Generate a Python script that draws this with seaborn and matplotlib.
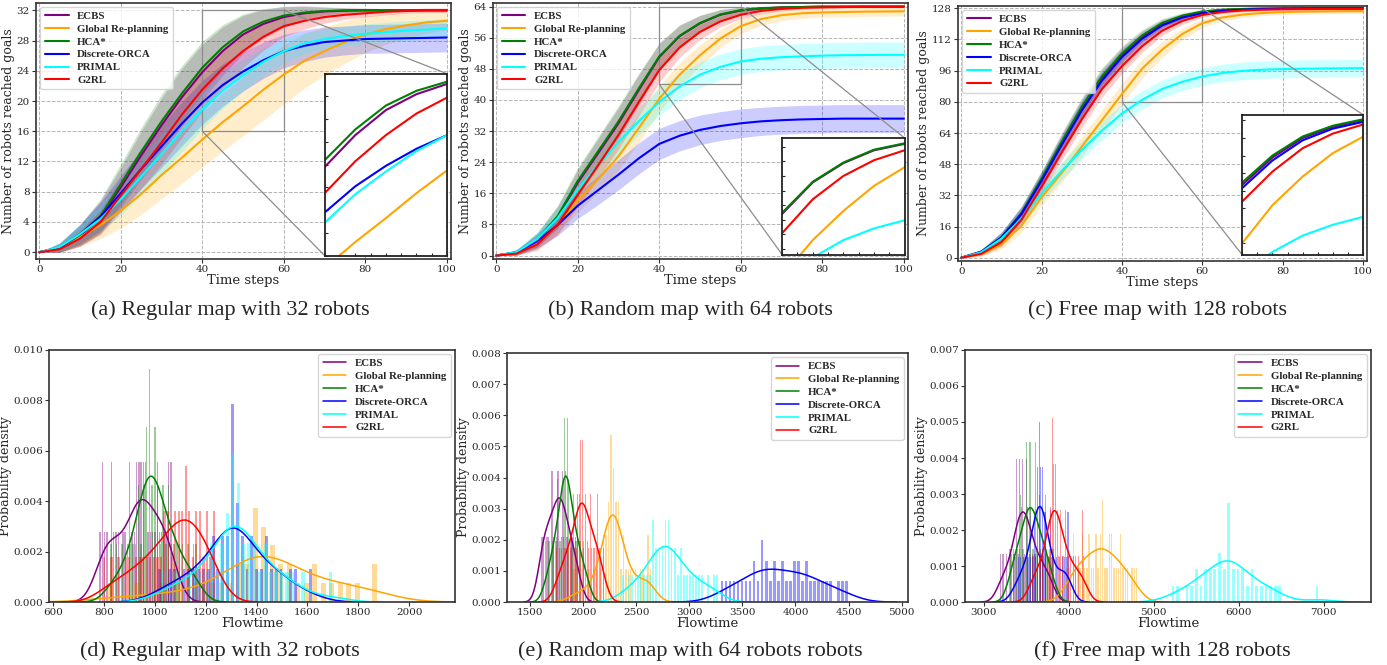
import matplotlib
matplotlib.use("Agg")
import seaborn as sns
from matplotlib import pyplot as plt
from matplotlib.ticker import FormatStrFormatter, MultipleLocator
from mpl_toolkits.axes_grid1.inset_locator import mark_inset

methods = ["ECBS", "Global Re-planning", "HCA*", "Discrete-ORCA", "PRIMAL", "G2RL"]
colors = ["purple", "orange", "green", "blue", "cyan", "red"]

steps = [0, 5, 10, 15, 20, 25, 30, 35, 40, 45, 50, 55, 60, 65, 70, 75, 80, 85, 90, 95, 100]

# (a) regular map, 32 robots: mean and std of robots at goal
a_ecbs = [0, 0.6, 2.2, 4.6, 8.6, 12.8, 16.8, 20.5, 23.8, 26.6, 28.8, 30.2, 31.1, 31.6, 31.85, 31.95, 32, 32, 32, 32, 32]
a_global = [0, 0.5, 2.0, 3.6, 5.5, 7.7, 10.2, 12.5, 14.9, 17.2, 19.3, 21.5, 23.5, 25.3, 26.6, 27.8, 28.8, 29.5, 30.0, 30.4, 30.6]
a_hca = [0, 0.6, 2.3, 4.8, 9.0, 13.3, 17.3, 21.0, 24.4, 27.1, 29.2, 30.5, 31.3, 31.7, 31.9, 32, 32, 32, 32, 32, 32]
a_orca = [0, 0.6, 2.4, 4.7, 7.8, 11.0, 14.0, 17.0, 19.8, 22.1, 23.9, 25.4, 26.6, 27.3, 27.8, 28.0, 28.2, 28.25, 28.3, 28.35, 28.4]
a_primal = [0, 0.7, 2.4, 4.4, 7.0, 10.0, 13.0, 16.0, 18.9, 21.4, 23.4, 25.2, 26.6, 27.6, 28.2, 28.6, 28.9, 29.1, 29.3, 29.45, 29.6]
a_g2rl = [0, 0.4, 1.8, 4.0, 7.5, 11.0, 14.5, 18.2, 21.5, 24.3, 26.6, 28.5, 29.9, 30.6, 31.1, 31.4, 31.6, 31.8, 31.9, 32, 32]
a_ecbs_sd = [0, 0.6, 1.4, 2.2, 2.6, 3.2, 3.6, 3.8, 3.7, 3.2, 2.5, 1.9, 1.4, 1.0, 0.6, 0.4, 0.3, 0.2, 0.1, 0.1, 0.1]
a_global_sd = [0, 0.5, 1.2, 1.8, 2.3, 2.7, 3.1, 3.4, 3.6, 3.8, 3.9, 4.0, 3.9, 3.6, 3.2, 2.8, 2.4, 2.0, 1.7, 1.4, 1.2]
a_hca_sd = [0, 0.6, 1.4, 2.2, 2.7, 3.2, 3.6, 3.7, 3.5, 3.0, 2.3, 1.7, 1.2, 0.8, 0.5, 0.3, 0.2, 0.1, 0.1, 0.1, 0.1]
a_orca_sd = [0, 0.6, 1.3, 1.9, 2.3, 2.6, 2.8, 2.9, 2.9, 2.8, 2.6, 2.4, 2.2, 2.1, 2.0, 1.9, 1.9, 1.9, 1.9, 1.9, 1.9]
a_primal_sd = [0, 0.6, 1.2, 1.7, 2.1, 2.4, 2.6, 2.7, 2.6, 2.4, 2.1, 1.8, 1.6, 1.4, 1.3, 1.3, 1.3, 1.3, 1.3, 1.3, 1.3]
a_g2rl_sd = [0, 0.4, 1.0, 1.6, 2.2, 2.6, 2.9, 3.0, 2.9, 2.6, 2.2, 1.8, 1.4, 1.1, 0.8, 0.6, 0.5, 0.4, 0.3, 0.3, 0.3]

# (b) random map, 64 robots
b_ecbs = [0, 0.8, 3.9, 9.7, 18.7, 26.3, 34.0, 42.6, 51.0, 56.4, 59.7, 61.9, 63.0, 63.5, 63.8, 63.9, 64, 64, 64, 64, 64]
b_global = [0, 0.6, 3.2, 7.8, 14.2, 19.6, 25.5, 32.8, 40.3, 46.5, 51.5, 55.8, 59.0, 60.8, 61.8, 62.3, 62.5, 62.6, 62.7, 62.75, 62.8]
b_hca = [0, 0.8, 4.0, 10.0, 19.2, 26.8, 34.5, 43.0, 51.2, 56.5, 59.8, 62.0, 63.1, 63.6, 63.8, 63.9, 64, 64, 64, 64, 64]
b_orca = [0, 0.8, 3.6, 7.8, 12.8, 16.8, 20.8, 25.0, 28.7, 30.8, 32.3, 33.3, 34.0, 34.5, 34.8, 35.0, 35.1, 35.2, 35.2, 35.2, 35.2]
b_primal = [0, 0.9, 4.2, 9.5, 17.0, 23.2, 29.2, 34.6, 39.5, 43.5, 46.5, 48.5, 49.9, 50.6, 51.0, 51.2, 51.4, 51.5, 51.55, 51.6, 51.6]
b_g2rl = [0, 0.5, 2.8, 7.8, 15.6, 23.2, 31.0, 39.5, 47.7, 53.5, 57.5, 60.2, 61.9, 62.9, 63.4, 63.7, 63.8, 63.9, 64, 64, 64]
b_ecbs_sd = [0, 0.6, 1.8, 2.8, 3.4, 3.8, 4.0, 3.9, 3.5, 2.8, 2.0, 1.3, 0.8, 0.5, 0.3, 0.2, 0.1, 0.1, 0.1, 0.1, 0.1]
b_global_sd = [0, 0.5, 1.5, 2.4, 3.0, 3.4, 3.6, 3.6, 3.4, 3.1, 2.7, 2.3, 1.9, 1.6, 1.4, 1.3, 1.2, 1.2, 1.2, 1.2, 1.2]
b_hca_sd = [0, 0.6, 1.8, 2.8, 3.4, 3.8, 4.0, 3.9, 3.5, 2.8, 2.0, 1.3, 0.8, 0.5, 0.3, 0.2, 0.1, 0.1, 0.1, 0.1, 0.1]
b_orca_sd = [0, 0.8, 1.8, 2.7, 3.3, 3.7, 3.9, 4.0, 4.0, 3.9, 3.8, 3.7, 3.7, 3.6, 3.6, 3.6, 3.6, 3.6, 3.6, 3.6, 3.6]
b_primal_sd = [0, 0.8, 1.8, 2.6, 3.1, 3.4, 3.5, 3.5, 3.5, 3.4, 3.3, 3.3, 3.3, 3.3, 3.3, 3.3, 3.3, 3.3, 3.3, 3.3, 3.3]
b_g2rl_sd = [0, 0.5, 1.5, 2.4, 3.0, 3.4, 3.6, 3.5, 3.1, 2.5, 1.9, 1.4, 1.0, 0.7, 0.5, 0.4, 0.3, 0.3, 0.3, 0.3, 0.3]

# (c) free map, 128 robots
c_ecbs = [0, 2.9, 10.2, 22.5, 40.0, 58.8, 76.8, 92.2, 104.0, 113.3, 120.0, 123.8, 126.1, 127.1, 127.6, 127.8, 127.9, 128, 128, 128, 128]
c_global = [0, 1.8, 6.8, 16.5, 31.0, 43.5, 57.0, 70.5, 84.0, 97.0, 106.8, 114.8, 120.4, 123.3, 124.8, 125.6, 126.1, 126.3, 126.4, 126.5, 126.5]
c_hca = [0, 3.0, 10.5, 23.0, 40.7, 59.5, 77.5, 93.0, 104.8, 114.0, 120.5, 124.2, 126.4, 127.3, 127.7, 127.9, 128, 128, 128, 128, 128]
c_orca = [0, 3.1, 10.4, 22.4, 39.5, 57.8, 75.5, 90.8, 102.9, 112.3, 119.2, 123.2, 125.5, 126.7, 127.3, 127.6, 127.8, 127.9, 128, 128, 128]
c_primal = [0, 2.8, 9.8, 20.0, 33.0, 44.5, 55.3, 65.2, 74.0, 81.0, 86.6, 90.3, 93.0, 94.8, 95.9, 96.5, 96.8, 97.0, 97.1, 97.2, 97.3]
c_g2rl = [0, 2.0, 8.0, 19.5, 36.5, 54.0, 71.0, 86.5, 98.3, 108.5, 116.5, 121.5, 124.6, 126.1, 126.9, 127.3, 127.5, 127.6, 127.7, 127.7, 127.7]
c_ecbs_sd = [0, 1.2, 2.6, 3.6, 4.2, 4.5, 4.6, 4.4, 3.8, 3.0, 2.2, 1.5, 1.0, 0.7, 0.5, 0.3, 0.2, 0.2, 0.2, 0.2, 0.2]
c_global_sd = [0, 1.0, 2.4, 3.4, 4.2, 4.8, 5.2, 5.4, 5.3, 4.8, 4.0, 3.0, 2.2, 1.7, 1.4, 1.3, 1.2, 1.2, 1.2, 1.2, 1.2]
c_hca_sd = [0, 1.2, 2.6, 3.6, 4.2, 4.5, 4.6, 4.4, 3.8, 3.0, 2.2, 1.5, 1.0, 0.7, 0.5, 0.3, 0.2, 0.2, 0.2, 0.2, 0.2]
c_orca_sd = [0, 1.3, 2.8, 3.8, 4.4, 4.7, 4.8, 4.5, 3.9, 3.0, 2.2, 1.5, 1.0, 0.7, 0.5, 0.4, 0.3, 0.3, 0.3, 0.3, 0.3]
c_primal_sd = [0, 1.2, 2.5, 3.4, 4.0, 4.4, 4.6, 4.7, 4.7, 4.6, 4.6, 4.5, 4.5, 4.5, 4.5, 4.5, 4.5, 4.5, 4.5, 4.5, 4.5]
c_g2rl_sd = [0, 1.0, 2.2, 3.0, 3.6, 4.0, 4.2, 4.1, 3.7, 3.1, 2.4, 1.7, 1.2, 0.9, 0.7, 0.6, 0.5, 0.5, 0.5, 0.5, 0.5]

# flowtime samples per method (d) regular, (e) random, (f) free
d_ecbs = [780, 790, 805, 815, 825, 832, 840, 848, 860, 872, 885, 898, 905, 912, 920, 926, 930, 934, 938, 942,
          946, 952, 958, 963, 968, 975, 982, 990, 998, 1005, 1012, 1020, 1028, 1035, 1042, 1050, 1058, 1064, 795, 1068]
d_global = [810, 930, 1020, 1090, 1150, 1200, 1240, 1272, 1300, 1322, 1342, 1360, 1376, 1390, 1402, 1414, 1426, 1438, 1450, 1463,
            1477, 1492, 1508, 1525, 1544, 1565, 1588, 1614, 1642, 1672, 1705, 1740, 1775, 1810, 1850, 1880, 1395, 1408, 1380, 1420]
d_hca = [822, 850, 872, 890, 905, 915, 925, 932, 940, 946, 952, 958, 963, 968, 972, 976, 980, 984, 988, 992,
         996, 1000, 1005, 1010, 1016, 1022, 1028, 1035, 1042, 1050, 1058, 1066, 1075, 1085, 1098, 1112, 1130, 1150, 1168, 978]
d_orca = [1296, 1310, 1010, 1050, 1085, 1110, 1135, 1155, 1175, 1192, 1208, 1222, 1235, 1248, 1260, 1270, 1280, 1290, 1298, 1306,
          1314, 1322, 1330, 1340, 1350, 1362, 1375, 1388, 1400, 1415, 1430, 1445, 1462, 1480, 1500, 1525, 1555, 1318, 1620, 1302]
d_primal = [1305, 1312, 1020, 1065, 1100, 1130, 1155, 1178, 1198, 1215, 1230, 1244, 1256, 1268, 1280, 1290, 1300, 1308, 1316, 1324,
            1332, 1340, 1350, 1360, 1372, 1385, 1398, 1412, 1426, 1440, 1456, 1474, 1495, 1520, 1550, 1590, 1326, 1700, 1290, 1320]
d_g2rl = [795, 830, 860, 885, 905, 925, 942, 958, 972, 985, 998, 1010, 1022, 1033, 1044, 1055, 1065, 1074, 1083, 1092,
          1100, 1107, 1114, 1120, 1127, 1134, 1141, 1149, 1157, 1165, 1173, 1181, 1190, 1200, 1210, 1220, 1232, 1240, 1050, 1118]

e_ecbs = [1585, 1598, 1610, 1622, 1635, 1648, 1660, 1672, 1684, 1695, 1705, 1715, 1725, 1735, 1744, 1752, 1760, 1768, 1776, 1784,
          1792, 1800, 1808, 1816, 1825, 1834, 1843, 1852, 1862, 1872, 1884, 1896, 1910, 1926, 1945, 1965, 1770, 1780, 1640, 1700]
e_global = [1900, 1990, 2050, 2095, 2130, 2158, 2180, 2198, 2214, 2228, 2240, 2252, 2262, 2272, 2282, 2292, 2302, 2313, 2325, 2338,
            2352, 2368, 2386, 2406, 2430, 2458, 2490, 2540, 2575, 2600, 2620, 2645, 2270, 2278, 2258, 2285, 2245, 2300, 2320, 2210]
e_hca = [1640, 1668, 1690, 1708, 1722, 1735, 1746, 1756, 1766, 1775, 1784, 1792, 1800, 1808, 1815, 1822, 1829, 1836, 1843, 1850,
         1857, 1864, 1872, 1880, 1888, 1897, 1906, 1916, 1926, 1938, 1950, 1964, 1980, 1998, 2020, 2045, 1830, 1835, 1820, 1845]
e_orca = [3290, 3330, 3380, 3430, 3470, 3510, 3545, 3575, 3605, 3630, 3655, 3680, 3700, 3720, 3740, 3762, 3785, 3810, 3835, 3860,
          3888, 3915, 3945, 3975, 4000, 4025, 4045, 4065, 4085, 4108, 4135, 4165, 4200, 4240, 4285, 4335, 4390, 4450, 4500, 3705]
e_primal = [2360, 2420, 2470, 2510, 2545, 2575, 2600, 2625, 2648, 2668, 2688, 2706, 2724, 2740, 2756, 2772, 2788, 2804, 2820, 2836,
            2852, 2870, 2888, 2906, 2926, 2948, 2972, 2998, 3025, 3055, 3090, 3130, 3175, 3225, 3275, 2780, 2790, 2800, 2700, 2650]
e_g2rl = [1740, 1770, 1795, 1815, 1832, 1848, 1862, 1875, 1888, 1900, 1912, 1923, 1934, 1945, 1955, 1964, 1973, 1982, 1990, 1998,
          2006, 2014, 2022, 2030, 2040, 2050, 2060, 2070, 2082, 2094, 2106, 2118, 2130, 2142, 2155, 2168, 1978, 1986, 1960, 2200]

f_ecbs = [3185, 3230, 3270, 3300, 3325, 3345, 3362, 3378, 3392, 3405, 3417, 3428, 3438, 3448, 3458, 3468, 3478, 3488, 3498, 3510,
          3522, 3535, 3548, 3562, 3578, 3595, 3612, 3630, 3650, 3672, 3695, 3720, 3748, 3778, 3215, 3790, 3420, 3460, 3500, 3380]
f_global = [3960, 4005, 4045, 4080, 4112, 4142, 4170, 4196, 4220, 4243, 4265, 4286, 4306, 4326, 4346, 4366, 4386, 4406, 4426, 4446,
            4467, 4488, 4510, 4533, 4557, 4582, 4608, 4636, 4666, 4698, 4732, 4770, 4810, 4390, 4380, 4250, 4500, 4150, 4620, 4060]
f_hca = [3290, 3320, 3348, 3372, 3394, 3414, 3432, 3449, 3465, 3480, 3494, 3508, 3521, 3534, 3546, 3558, 3570, 3582, 3595, 3608,
         3621, 3635, 3650, 3666, 3683, 3702, 3722, 3745, 3770, 3798, 3830, 3540, 3552, 3528, 3500, 3600, 3440, 3660, 3380, 3720]
f_orca = [3360, 3400, 3435, 3465, 3490, 3512, 3532, 3550, 3567, 3583, 3598, 3612, 3625, 3638, 3650, 3662, 3674, 3686, 3698, 3711,
          3724, 3738, 3753, 3770, 3790, 3815, 3845, 3890, 3935, 3960, 3980, 4000, 3655, 3645, 3665, 3640, 3680, 3620, 3700, 3950]
f_primal = [5200, 5260, 5860, 5380, 5430, 5475, 5515, 5550, 5585, 5615, 5645, 5672, 5700, 5725, 5750, 5775, 5800, 5825, 5850, 5875,
            5900, 5925, 5950, 5977, 6005, 6035, 6065, 6098, 6132, 6170, 6210, 6255, 6305, 6360, 6420, 6490, 5910, 6950, 5880, 5890]
f_g2rl = [3560, 3600, 3635, 3665, 3690, 3712, 3732, 3750, 3766, 3781, 3795, 3808, 3820, 3832, 3844, 3856, 3868, 3880, 3893, 3906,
          3920, 3935, 3951, 3968, 3986, 4006, 4028, 4052, 4080, 4112, 4150, 4185, 3580, 4160, 3830, 3810, 3840, 3800, 3850, 3790]

sns.set_style("white")
plt.rcParams['font.family'] = 'serif'
plt.rcParams['font.serif'] = ['DejaVu Serif']
plt.rcParams['xtick.labelsize'] = 7.5
plt.rcParams['ytick.labelsize'] = 7.5

leg_font = {'family': 'Liberation Serif', 'weight': 'bold', 'size': 7.8}
cap_font = {'family': 'Liberation Serif', 'size': 16}

fig = plt.figure(figsize=(13.87, 6.65), dpi=100)


def frame(ax):
    for s in ax.spines.values():
        s.set_color('#333333')
        s.set_linewidth(1.2)
    ax.tick_params(axis='both', which='major', length=3, width=0.8, color='#333333',
                   bottom=True, left=True, pad=1.5)


def curve_panel(pos, means, sds, ylim, yticks, inset_pos, zoom_y):
    ax = fig.add_axes(pos)
    for m, s, name, c in zip(means, sds, methods, colors):
        lo = [a - b for a, b in zip(m, s)]
        hi = [a + b for a, b in zip(m, s)]
        ax.fill_between(steps, lo, hi, color=c, alpha=0.2, linewidth=0)
    for m, name, c in zip(means, methods, colors):
        sns.lineplot(x=steps, y=m, color=c, lw=1.5, label=name, ax=ax)
    ax.set_xlim(-0.8, 101)
    ax.set_ylim(*ylim)
    ax.set_xticks([0, 20, 40, 60, 80, 100])
    ax.set_yticks(yticks)
    ax.grid(True, ls='--', color='#b5b5b5', lw=0.7)
    frame(ax)
    ax.set_xlabel("Time steps", fontsize=9.5, labelpad=0)
    ax.set_ylabel("Number of robots reached goals", fontsize=9, labelpad=1)
    ax.legend(loc='upper left', prop=leg_font, handlelength=2.2, borderaxespad=0.4,
              labelspacing=0.3, edgecolor='#cccccc')

    axins = ax.inset_axes(inset_pos)
    for m, c in zip(means, colors):
        sns.lineplot(x=steps, y=m, color=c, lw=1.5, ax=axins, legend=False)
    axins.set_xlim(40, 60)
    axins.set_ylim(*zoom_y)
    axins.xaxis.set_major_locator(MultipleLocator(2.5))
    axins.yaxis.set_major_locator(MultipleLocator((zoom_y[1] - zoom_y[0]) / 8))
    axins.set_xticklabels([])
    axins.set_yticklabels([])
    axins.tick_params(length=2, direction='in', bottom=True, left=True)
    axins.set_facecolor('white')
    for s in axins.spines.values():
        s.set_color('#222222')
        s.set_linewidth(1.3)
    mark_inset(ax, axins, loc1=1, loc2=3, fc='none', ec='0.55', lw=0.9)
    return ax


def hist_panel(pos, samples, xlim, xticks, ylim, ystep):
    ax = fig.add_axes(pos)
    for vals, name, c in zip(samples, methods, colors):
        sns.histplot(x=vals, bins=32, stat='density', color=c, alpha=0.4, linewidth=0,
                     shrink=0.6, ax=ax)
    for vals, name, c in zip(samples, methods, colors):
        sns.kdeplot(x=vals, color=c, lw=1.1, label=name, ax=ax)
    ax.set_xlim(*xlim)
    ax.set_ylim(*ylim)
    ax.set_xticks(xticks)
    ax.yaxis.set_major_locator(MultipleLocator(ystep))
    ax.yaxis.set_major_formatter(FormatStrFormatter('%.3f'))
    frame(ax)
    ax.set_xlabel("Flowtime", fontsize=9.5, labelpad=0)
    ax.set_ylabel("Probability density", fontsize=9, labelpad=1)
    ax.legend(loc='upper right', prop=leg_font, handlelength=2.2, borderaxespad=0.4,
              labelspacing=0.3, edgecolor='#cccccc')
    return ax


curve_panel([0.026, 0.6105, 0.299, 0.3854],
            [a_ecbs, a_global, a_hca, a_orca, a_primal, a_g2rl],
            [a_ecbs_sd, a_global_sd, a_hca_sd, a_orca_sd, a_primal_sd, a_g2rl_sd],
            (-0.9, 33), list(range(0, 33, 4)), [0.696, 0.013, 0.295, 0.71], (16, 32))
curve_panel([0.3554, 0.6105, 0.2992, 0.3854],
            [b_ecbs, b_global, b_hca, b_orca, b_primal, b_g2rl],
            [b_ecbs_sd, b_global_sd, b_hca_sd, b_orca_sd, b_primal_sd, b_g2rl_sd],
            (-0.9, 65), list(range(0, 65, 8)), [0.697, 0.017, 0.295, 0.455], (44, 64))
curve_panel([0.6907, 0.6075, 0.2949, 0.3835],
            [c_ecbs, c_global, c_hca, c_orca, c_primal, c_g2rl],
            [c_ecbs_sd, c_global_sd, c_hca_sd, c_orca_sd, c_primal_sd, c_g2rl_sd],
            (-1.7, 129.2), list(range(0, 129, 16)), [0.695, 0.024, 0.295, 0.55], (80, 128))

hist_panel([0.0353, 0.0947, 0.2927, 0.379],
           [d_ecbs, d_global, d_hca, d_orca, d_primal, d_g2rl],
           (584, 2180), list(range(600, 2001, 200)), (0, 0.010), 0.002)
hist_panel([0.3655, 0.0947, 0.2891, 0.3744],
           [e_ecbs, e_global, e_hca, e_orca, e_primal, e_g2rl],
           (1280, 5060), list(range(1500, 5001, 500)), (0, 0.008), 0.001)
hist_panel([0.6957, 0.0947, 0.2927, 0.379],
           [f_ecbs, f_global, f_hca, f_orca, f_primal, f_g2rl],
           (2776, 7558), list(range(3000, 7001, 1000)), (0, 0.007), 0.001)

captions = ["(a) Regular map with 32 robots", "(b) Random map with 64 robots", "(c) Free map with 128 robots",
            "(d) Regular map with 32 robots", "(e) Random map with 64 robots robots", "(f) Free map with 128 robots"]
cap_x = [230, 690, 1157, 220, 690, 1162]
cap_y = [310, 310, 310, 651, 651, 651]
for t, x, y in zip(captions, cap_x, cap_y):
    fig.text(x / 1387, 1 - y / 665, t, ha='center', va='center', fontdict=cap_font)

plt.savefig('out.png', dpi=100)
